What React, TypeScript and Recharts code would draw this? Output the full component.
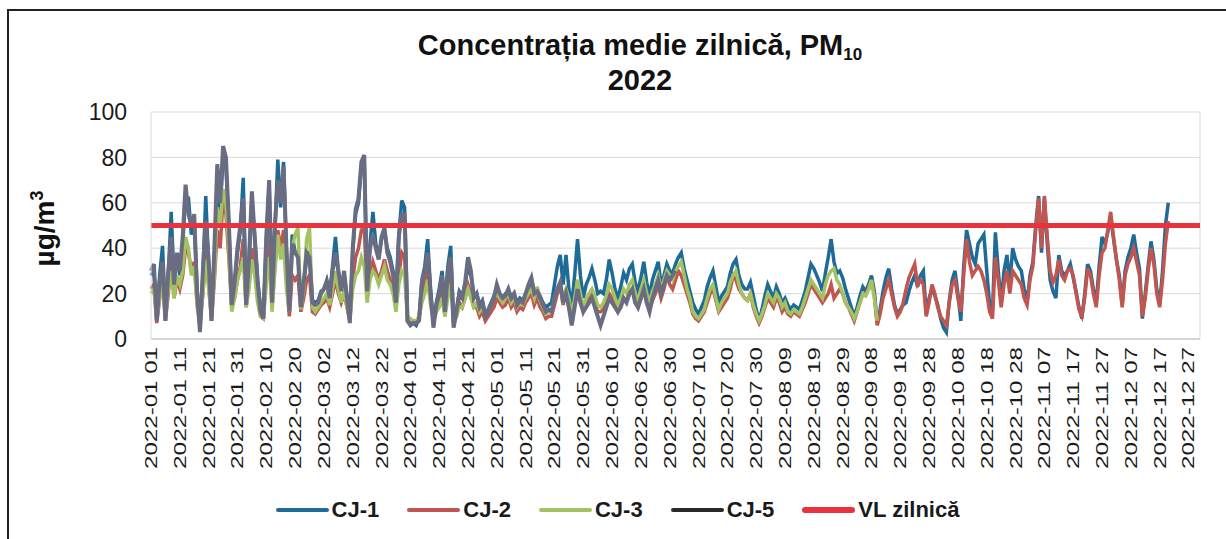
import React from "react";
import {
  LineChart,
  Line,
  XAxis,
  YAxis,
  CartesianGrid,
  ReferenceLine,
  Legend,
} from "recharts";

// valoarea limită zilnică PM10
const VL_ZILNIC = 50;
const yTicks = [0, 20, 40, 60, 80, 100];

// CJ-1, zilnic (ian - 20 dec)
const cj1 = [
  // ian
  28, 30, 10, 28, 41, 10, 28, 56, 26, 36, 28, 42, 62, 62, 46, 52, 22, 5, 28, 63, 32, 10, 36, 72, 56, 80, 76, 50, 17, 24, 38,
  // feb
  48, 71, 17, 33, 62, 44, 26, 14, 11, 42, 68, 18, 48, 79, 58, 78, 38, 13, 46, 38, 38, 16, 24, 36, 38, 17, 16, 17,
  // mar
  21, 22, 26, 20, 32, 45, 30, 22, 28, 19, 9, 38, 55, 60, 76, 78, 24, 42, 56, 42, 36, 44, 48, 40, 36, 30, 18, 46, 61, 58, 10,
  // apr
  7, 7, 6, 9, 26, 32, 44, 22, 7, 16, 22, 30, 14, 32, 41, 7, 13, 21, 19, 24, 32, 28, 20, 20, 15, 17, 11, 13, 16, 19,
  // mai
  22, 20, 18, 20, 21, 19, 20, 16, 18, 17, 20, 22, 26, 21, 22, 19, 16, 14, 15, 16, 24, 32, 37, 24, 37, 22, 15, 28, 44, 28, 18,
  // iun
  24, 27, 31, 26, 20, 21, 20, 26, 35, 29, 22, 18, 23, 29, 26, 31, 33, 25, 21, 27, 34, 25, 19, 26, 30, 34, 24, 28, 33, 30,
  // iul
  29, 33, 36, 38, 31, 26, 21, 16, 13, 11, 14, 17, 23, 27, 30, 23, 16, 19, 21, 23, 29, 33, 35, 28, 24, 22, 22, 25, 19, 13, 8,
  // aug
  13, 19, 24, 21, 18, 23, 20, 16, 18, 15, 13, 15, 14, 13, 17, 21, 27, 33, 31, 28, 25, 21, 29, 36, 44, 34, 29, 30, 27, 22, 18,
  // sep
  14, 10, 14, 19, 23, 21, 24, 28, 21, 7, 13, 21, 27, 31, 22, 15, 11, 13, 15, 16, 21, 25, 28, 23, 28, 30, 11, 18, 22, 19,
  // oct
  15, 9, 5, 3, 17, 26, 30, 20, 8, 32, 48, 42, 36, 33, 42, 44, 46, 30, 15, 12, 47, 30, 16, 30, 37, 24, 40, 35, 32, 30, 22,
  // noi
  16, 28, 34, 50, 63, 38, 62, 42, 26, 21, 18, 37, 30, 28, 30, 33, 27, 21, 14, 9, 20, 33, 30, 22, 16, 32, 45, 42, 47, 54,
  // dec
  44, 35, 28, 15, 30, 36, 40, 46, 38, 31, 9, 20, 32, 43, 35, 22, 15, 30, 50, 60,
];

// CJ-2
const cj2 = [
  22, 24, 7, 18, 28, 8, 20, 34, 18, 26, 22, 28, 40, 38, 30, 34, 16, 6, 20, 38, 24, 8, 26, 48, 40, 62, 55, 36, 14, 18, 26,
  32, 44, 14, 24, 40, 30, 18, 10, 9, 28, 44, 14, 32, 48, 40, 48, 26, 10, 28, 26, 28, 12, 18, 26, 28, 12, 11, 13,
  15, 16, 18, 14, 20, 26, 20, 16, 20, 14, 8, 26, 36, 40, 48, 50, 18, 28, 34, 30, 26, 30, 35, 30, 26, 22, 14, 28, 38, 36, 8,
  8, 8, 7, 9, 18, 24, 35, 18, 8, 12, 16, 22, 10, 24, 32, 7, 10, 16, 14, 18, 24, 20, 14, 14, 10, 12, 8, 10, 12, 14,
  18, 16, 14, 15, 18, 14, 16, 12, 14, 13, 16, 18, 20, 15, 18, 14, 12, 9, 10, 10, 15, 20, 24, 15, 22, 14, 8, 16, 26, 18, 12,
  15, 18, 20, 16, 12, 12, 13, 16, 20, 18, 15, 12, 15, 18, 17, 20, 22, 17, 14, 18, 22, 17, 13, 17, 20, 24, 18, 22, 28, 24,
  22, 26, 30, 28, 24, 20, 16, 11, 9, 8, 10, 12, 16, 20, 22, 17, 12, 14, 16, 18, 22, 28, 26, 22, 20, 18, 17, 20, 14, 10, 7,
  10, 14, 18, 16, 14, 18, 16, 12, 14, 11, 10, 12, 11, 10, 13, 16, 20, 24, 22, 20, 18, 16, 18, 20, 24, 18, 20, 22, 20, 16, 14,
  11, 8, 12, 16, 20, 20, 22, 26, 19, 6, 11, 18, 22, 26, 20, 14, 10, 12, 16, 22, 27, 30, 33, 24, 26, 24, 10, 16, 24, 20,
  14, 10, 8, 6, 16, 24, 26, 18, 12, 28, 44, 34, 28, 30, 32, 30, 26, 20, 12, 9, 36, 26, 14, 24, 30, 20, 30, 28, 26, 24, 18,
  15, 26, 32, 48, 62, 40, 63, 45, 30, 25, 28, 35, 28, 26, 30, 31, 28, 20, 13, 10, 18, 31, 28, 20, 14, 28, 38, 40, 48, 56,
  45, 35, 26, 14, 28, 33, 36, 40, 34, 28, 10, 18, 30, 40, 33, 20, 14, 26, 42, 52,
];

// CJ-3 (până la 9 sep)
const cj3 = [
  20, 22, 9, 18, 25, 9, 22, 30, 18, 28, 24, 30, 45, 40, 28, 32, 14, 8, 20, 35, 22, 10, 28, 58, 50, 66, 60, 40, 12, 18, 26,
  30, 36, 14, 22, 35, 28, 16, 10, 9, 24, 36, 12, 30, 46, 35, 42, 22, 12, 40, 46, 49, 13, 22, 44, 49, 14, 12, 14,
  16, 18, 20, 15, 22, 30, 22, 16, 22, 14, 9, 22, 28, 30, 36, 32, 16, 26, 30, 28, 24, 28, 32, 26, 24, 20, 12, 24, 30, 28, 9,
  9, 8, 8, 10, 16, 20, 26, 15, 8, 12, 14, 18, 10, 18, 24, 8, 10, 14, 14, 18, 22, 18, 14, 16, 12, 14, 11, 12, 15, 18,
  20, 18, 16, 18, 20, 16, 18, 14, 16, 15, 18, 20, 22, 18, 23, 17, 14, 11, 12, 12, 18, 22, 24, 18, 22, 18, 10, 18, 26, 20, 14,
  18, 20, 22, 19, 15, 14, 16, 19, 24, 22, 18, 15, 18, 22, 20, 24, 26, 20, 17, 22, 26, 20, 16, 21, 24, 28, 22, 26, 30, 28,
  26, 30, 32, 34, 28, 22, 18, 12, 10, 9, 11, 13, 18, 22, 24, 18, 13, 16, 18, 20, 25, 28, 30, 24, 20, 18, 17, 20, 15, 11, 8,
  11, 15, 20, 18, 16, 20, 18, 14, 16, 12, 11, 13, 12, 11, 14, 18, 22, 26, 24, 22, 20, 18, 24, 28, 30, 31, 26, 24, 20, 16, 14,
  12, 9, 12, 16, 20, 19, 22, 26, 18, 8,
];

// CJ-5 (până la 2 iul)
const cj5 = [
  30, 33, 8, 25, 34, 8, 30, 45, 24, 38, 30, 45, 68, 55, 50, 55, 20, 3, 30, 52, 35, 8, 40, 77, 60, 85, 80, 52, 15, 25, 40,
  50, 62, 15, 35, 65, 45, 25, 12, 9, 45, 70, 16, 50, 70, 60, 76, 40, 12, 42, 38, 36, 14, 25, 38, 36, 16, 15, 16,
  20, 22, 25, 18, 30, 38, 30, 21, 30, 18, 7, 40, 57, 62, 78, 81, 21, 40, 46, 40, 35, 45, 49, 38, 34, 28, 16, 45, 55, 55, 8,
  6, 7, 7, 8, 25, 30, 38, 20, 5, 15, 20, 28, 12, 30, 36, 5, 12, 20, 18, 25, 36, 30, 18, 20, 14, 16, 10, 12, 15, 18,
  24, 20, 18, 19, 22, 18, 20, 15, 17, 16, 20, 24, 27, 20, 21, 18, 15, 12, 13, 12, 18, 22, 25, 16, 20, 14, 6, 14, 22, 16, 12,
  14, 16, 18, 14, 10, 6, 10, 14, 18, 16, 14, 12, 14, 18, 16, 20, 22, 16, 14, 18, 22, 16, 12, 18, 22, 26, 20, 24, 28, 26,
  28, 30,
];

const dates: string[] = [];
for (let d = 0; d < 365; d++) {
  dates.push(new Date(Date.UTC(2022, 0, 1 + d)).toISOString().slice(0, 10));
}

const data = dates.map((date, i) => ({
  date,
  cj1: cj1[i] ?? null,
  cj2: cj2[i] ?? null,
  cj3: cj3[i] ?? null,
  cj5: cj5[i] ?? null,
}));

const FONT = "'Liberation Sans', Arial, sans-serif";
const RED = "#e8333c";

const series = [
  { key: "cj1", name: "CJ-1", color: "#1f6b98", legend: "#1f6b98", w: 3.5 },
  { key: "cj2", name: "CJ-2", color: "#c0564f", legend: "#c0564f", w: 3.5 },
  { key: "cj3", name: "CJ-3", color: "#a3c363", legend: "#a3c363", w: 3.5 },
  { key: "cj5", name: "CJ-5", color: "#6a6d82", legend: "#2a2a2a", w: 4 },
];

const DateTick = ({ x, y, payload }: any) => {
  const v: string = payload.value;
  return (
    <text
      transform={`translate(${x + 6},${y + 8}) rotate(-90)`}
      textAnchor="end"
      fontSize={16}
      fill="#1a1a1a"
      fontFamily={FONT}
      textLength={122}
      lengthAdjust="spacingAndGlyphs"
    >
      {v.slice(0, 7) + " " + v.slice(8)}
    </text>
  );
};

const UnitLabel = ({ viewBox }: any) => {
  const cx = viewBox.x + 45;
  const cy = viewBox.y + viewBox.height / 2 + 3;
  return (
    <text
      transform={`translate(${cx},${cy}) rotate(-90)`}
      textAnchor="middle"
      fontSize={28}
      fontWeight="bold"
      fill="#111"
      fontFamily={FONT}
    >
      µg/m
      <tspan dy={-11} fontSize={18}>
        3
      </tspan>
    </text>
  );
};

const renderLegend = () => (
  <div
    style={{
      display: "flex",
      justifyContent: "center",
      gap: 28,
      fontFamily: FONT,
      fontWeight: "bold",
      fontSize: 22,
      color: "#1a1a1a",
    }}
  >
    {[...series, { key: "vl", name: "VL zilnică", color: RED, legend: RED, w: 6 }].map((s) => (
      <div key={s.key} style={{ display: "flex", alignItems: "center" }}>
        <span
          style={{
            display: "inline-block",
            width: 53,
            height: s.key === "vl" ? 6 : 4,
            borderRadius: 3,
            background: s.legend,
            marginRight: 3,
          }}
        />
        <span>{s.name}</span>
      </div>
    ))}
  </div>
);

export default function App() {
  return (
    <div
      style={{
        position: "fixed",
        left: 0,
        top: 0,
        width: 1226,
        height: 539,
        overflow: "hidden",
        background: "#fff",
        fontFamily: FONT,
      }}
    >
      <div
        style={{
          position: "absolute",
          left: 7,
          top: 9,
          width: 1300,
          height: 600,
          borderLeft: "2px solid #222",
          borderTop: "2px solid #222",
        }}
      />
      <div
        style={{
          position: "absolute",
          left: 640,
          top: 30,
          transform: "translateX(-50%)",
          whiteSpace: "nowrap",
          textAlign: "center",
          fontWeight: "bold",
          fontSize: 29,
          lineHeight: "30px",
          color: "#111",
        }}
      >
        <div>
          Concentrația medie zilnică, PM
          <span style={{ fontSize: 17, position: "relative", top: 5 }}>10</span>
        </div>
        <div>2022</div>
      </div>
      <div style={{ position: "absolute", left: 9, top: 11 }}>
        <LineChart
          width={1217}
          height={528}
          data={data}
          margin={{ top: 101, right: 26, left: 0, bottom: 70 }}
        >
          <CartesianGrid horizontal vertical={false} stroke="#d9d9d9" />
          <XAxis
            dataKey="date"
            interval={9}
            height={130}
            tickLine={false}
            tickSize={0}
            tickMargin={0}
            axisLine={{ stroke: "#bfbfbf" }}
            tick={<DateTick />}
          />
          <YAxis
            width={142}
            domain={[0, 100]}
            ticks={yTicks}
            tickLine={false}
            tickSize={0}
            tickMargin={24}
            axisLine={{ stroke: "#d9d9d9" }}
            tick={{ fontSize: 23, fill: "#1a1a1a", fontFamily: FONT }}
            label={<UnitLabel />}
          />
          <ReferenceLine x={dates[dates.length - 1]} stroke="#d9d9d9" />
          {series.map((s) => (
            <Line
              key={s.key}
              type="linear"
              dataKey={s.key}
              name={s.name}
              stroke={s.color}
              strokeWidth={s.w}
              dot={false}
              activeDot={false}
              isAnimationActive={false}
            />
          ))}
          <ReferenceLine y={VL_ZILNIC} stroke={RED} strokeWidth={5} />
          <Legend
            layout="horizontal"
            verticalAlign="middle"
            align="center"
            wrapperStyle={{ top: 486, left: 0, width: 1217 }}
            content={renderLegend}
          />
        </LineChart>
      </div>
    </div>
  );
}
